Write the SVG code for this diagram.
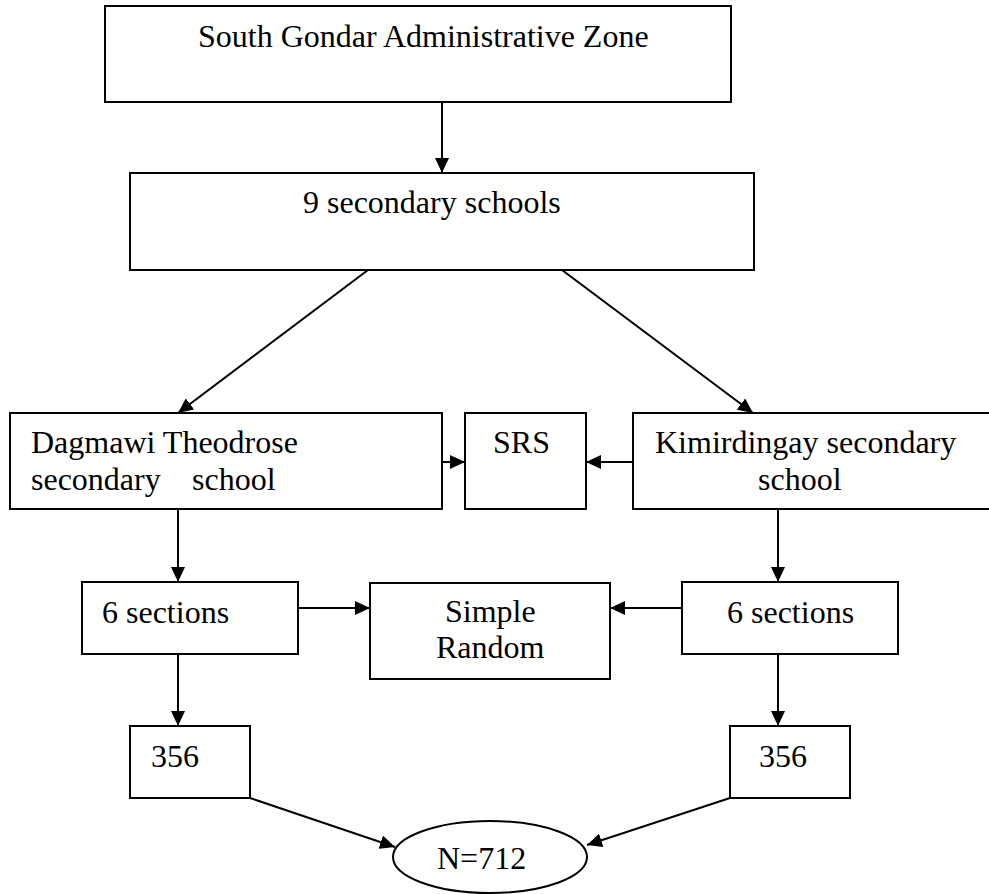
<svg xmlns="http://www.w3.org/2000/svg" width="989" height="894" viewBox="0 0 989 894">
<style>
.box{fill:#fff;stroke:#000;stroke-width:2}
.t{font-family:"Liberation Serif","Times New Roman",serif;font-size:32px;fill:#000}
.c{stroke:#000;stroke-width:2;fill:none;marker-end:url(#ah)}
</style>
<defs>
<marker id="ah" markerUnits="userSpaceOnUse" markerWidth="15" markerHeight="14" refX="15" refY="7" orient="auto">
<path d="M0,0 L15,7 L0,14 z" fill="#000"/>
</marker>
</defs>
<rect width="989" height="894" fill="#fff"/>
<g id="connectors">
<line class="c" x1="442" y1="102" x2="442" y2="173"/>
<line class="c" x1="368" y1="270" x2="178" y2="413"/>
<line class="c" x1="562" y1="270" x2="753" y2="413"/>
<line class="c" x1="442" y1="462" x2="465" y2="462"/>
<line class="c" x1="633" y1="462" x2="586" y2="462"/>
<line class="c" x1="178" y1="509" x2="178" y2="582"/>
<line class="c" x1="778" y1="509" x2="778" y2="582"/>
<line class="c" x1="298" y1="608" x2="370" y2="608"/>
<line class="c" x1="682" y1="608" x2="610" y2="608"/>
<line class="c" x1="178" y1="654" x2="178" y2="726"/>
<line class="c" x1="778" y1="654" x2="778" y2="726"/>
<line class="c" x1="250" y1="798" x2="395" y2="847"/>
<line class="c" x1="730" y1="798" x2="587" y2="845"/>
</g>
<g id="zone">
<rect class="box" x="105" y="6" width="626" height="96"/>
<text class="t" x="198" y="47">South Gondar Administrative Zone</text>
</g>
<g id="schools9">
<rect class="box" x="130" y="173" width="624" height="97"/>
<text class="t" x="303" y="213">9 secondary schools</text>
</g>
<g id="dagmawi">
<rect class="box" x="10" y="413" width="432" height="96"/>
<text class="t" x="31" y="453">Dagmawi Theodrose</text>
<text class="t" y="490"><tspan x="31">secondary</tspan><tspan x="192">school</tspan></text>
</g>
<g id="srs">
<rect class="box" x="465" y="413" width="121" height="96"/>
<text class="t" x="493" y="453">SRS</text>
</g>
<g id="kimirdingay">
<rect class="box" x="633" y="413" width="370" height="96"/>
<text class="t" x="655" y="453">Kimirdingay secondary</text>
<text class="t" x="758" y="490">school</text>
</g>
<g id="sections-left">
<rect class="box" x="82" y="582" width="216" height="72"/>
<text class="t" x="102" y="623">6 sections</text>
</g>
<g id="simple-random">
<rect class="box" x="370" y="583" width="240" height="96"/>
<text class="t" x="445" y="622">Simple</text>
<text class="t" x="436" y="658">Random</text>
</g>
<g id="sections-right">
<rect class="box" x="682" y="582" width="216" height="72"/>
<text class="t" x="727" y="623">6 sections</text>
</g>
<g id="n356-left">
<rect class="box" x="130" y="726" width="120" height="72"/>
<text class="t" x="151" y="767">356</text>
</g>
<g id="n356-right">
<rect class="box" x="730" y="726" width="120" height="72"/>
<text class="t" x="759" y="767">356</text>
</g>
<g id="total">
<ellipse class="box" cx="490" cy="857" rx="97" ry="36"/>
<text class="t" x="437" y="869">N=712</text>
</g>
</svg>
